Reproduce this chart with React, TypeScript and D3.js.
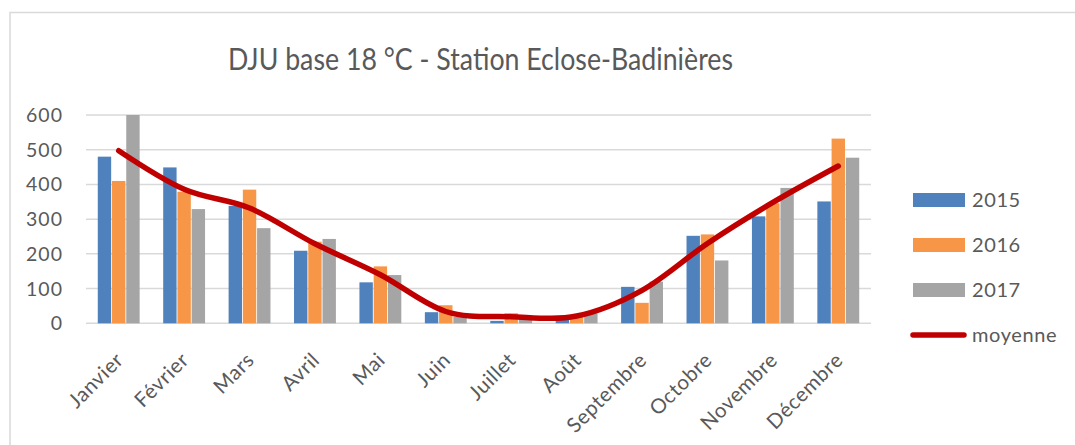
import React from "react";
import * as d3 from "d3";

const months = ["Janvier", "Février", "Mars", "Avril", "Mai", "Juin", "Juillet", "Août", "Septembre", "Octobre", "Novembre", "Décembre"];
const s2015 = [480, 449, 338, 209, 118, 32, 7, 12, 105, 252, 308, 351];
const s2016 = [410, 379, 385, 235, 164, 52, 29, 21, 59, 256, 346, 532];
const s2017 = [600, 329, 274, 243, 139, 19, 20, 29, 120, 181, 390, 477];
const moyenne = [497, 386, 332, 229, 140, 34, 19, 21, 95, 230, 348, 453];
const yTicks = [0, 100, 200, 300, 400, 500, 600];
const seriesNames = ["2015", "2016", "2017"];
const colors = ["#4F81BD", "#F79646", "#A5A5A5"];
const lineColor = "#C00000";
const title = "DJU base 18 °C - Station Eclose-Badinières";

const FONT = "Lato, 'Open Sans', sans-serif";
const TXT = "#595959";

export default function App() {
  const W = 1075, H = 445;
  const left = 86, right = 871, top = 115, bottom = 323.3;
  const x = d3.scaleBand<string>().domain(months).range([left, right]).paddingInner(0.36).paddingOuter(0.18);
  const y = d3.scaleLinear().domain([0, 600]).range([bottom, top]);
  const xs = d3.scaleBand<string>().domain(seriesNames).range([0, x.bandwidth()]).paddingInner(0.06);
  const series = [s2015, s2016, s2017];
  const center = (m: string) => (x(m) as number) + x.bandwidth() / 2;
  const line = d3.line<number>().x((_, i) => center(months[i])).y((v) => y(v)).curve(d3.curveCardinal.tension(0));
  const legendY = [200, 245, 290, 335];

  return (
    <svg width={W} height={H} style={{ position: "absolute", left: 0, top: 0, background: "#fff" }} fontFamily={FONT}>
      <rect x={10} y={12.5} width={1100} height={460} fill="#fff" stroke="#D9D9D9" strokeWidth={1.5} />
      <text x={480.5} y={70} textAnchor="middle" fontSize={30} fill={TXT} textLength={505} lengthAdjust="spacingAndGlyphs">{title}</text>
      {yTicks.map((t) => (
        <g key={t}>
          <line x1={left} x2={right} y1={y(t)} y2={y(t)} stroke="#D9D9D9" strokeWidth={1.5} />
          <text x={63} y={y(t)} dy="0.36em" textAnchor="end" fontSize={19.5} letterSpacing={1} fill={TXT}>{t}</text>
        </g>
      ))}
      {series.map((vals, si) => (
        <g key={si}>
          {vals.map((v, i) => (
            <rect key={i} x={(x(months[i]) as number) + (xs(seriesNames[si]) as number)} y={y(v)} width={xs.bandwidth()} height={y(0) - y(v)} fill={colors[si]} />
          ))}
        </g>
      ))}
      <path d={line(moyenne) || ""} fill="none" stroke={lineColor} strokeWidth={5.5} strokeLinecap="round" strokeLinejoin="round" />
      {months.map((m) => (
        <text key={m} transform={`translate(${center(m) + 6},${bottom + 38}) rotate(-45)`} textAnchor="end" fontSize={20.5} letterSpacing={0.6} fill={TXT}>{m}</text>
      ))}
      {seriesNames.map((n, i) => (
        <g key={n}>
          <rect x={913} y={legendY[i] - 7} width={52} height={14} fill={colors[i]} />
          <text x={972} y={legendY[i]} dy="0.36em" fontSize={20} letterSpacing={0.6} fill={TXT}>{n}</text>
        </g>
      ))}
      <line x1={913} x2={964} y1={legendY[3]} y2={legendY[3]} stroke={lineColor} strokeWidth={5.5} strokeLinecap="round" />
      <text x={972} y={legendY[3]} dy="0.36em" fontSize={20} letterSpacing={0.6} fill={TXT}>moyenne</text>
    </svg>
  );
}
